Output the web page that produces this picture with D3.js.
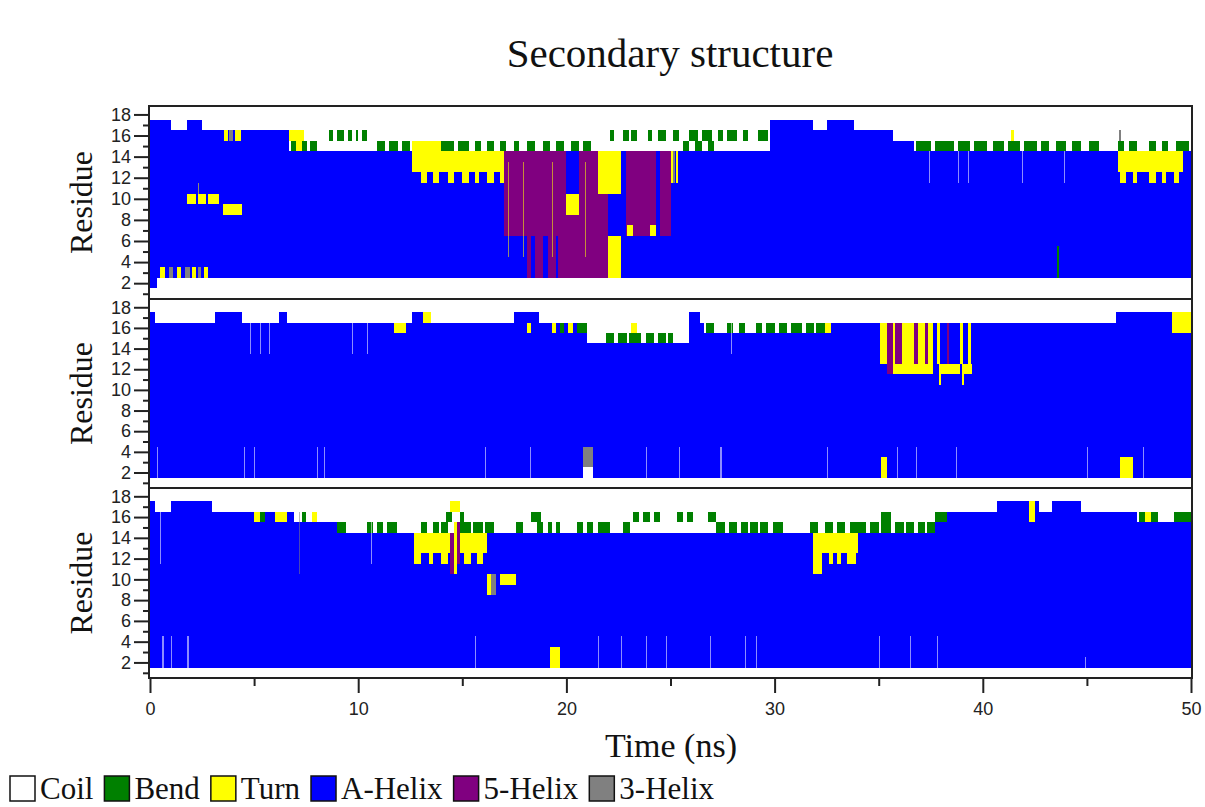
<!DOCTYPE html>
<html>
<head>
<meta charset="utf-8">
<script src="https://cdn.jsdelivr.net/npm/d3@7"></script>
<style>
body { margin: 0; background: #fff; }
svg { display: block; }
</style>
</head>
<body>
<div id="chart"></div>
<script>
// secondary structure states (DSSP codes) and their legend names
var states = ["C", "B", "T", "H", "I", "G"];
var stateNames = ["Coil", "Bend", "Turn", "A-Helix", "5-Helix", "3-Helix"];

var timeTicks = [0, 10, 20, 30, 40, 50];
var timeMinorTicks = [5, 15, 25, 35, 45];
var residueTicks = [2, 4, 6, 8, 10, 12, 14, 16, 18];
var residueMinorTicks = [1, 3, 5, 7, 9, 11, 13, 15, 17];

// each entry: [state, first residue, last residue, [[t0, t1], ...]] in ns
// later entries are painted over earlier ones, anything not covered is coil
var run1 = [
    ["H", 3, 14, [[0, 50]]],
    ["H", 15, 16, [[0, 6.7], [29.8, 35.7]]],
    ["H", 15, 15, [[35.7, 36.7]]],
    ["H", 17, 17, [[0, 1.0], [1.8, 2.5], [29.8, 31.85], [32.5, 33.8]]],
    ["H", 2, 2, [[0, 0.35]]],
    ["T", 3, 3, [[0.5, 0.7], [1.3, 1.5], [2.0, 2.2], [2.6, 2.8]]],
    ["G", 3, 3, [[0.9, 1.1], [1.7, 1.9], [2.3, 2.45]]],
    ["T", 10, 10, [[1.8, 2.2], [2.3, 2.7], [2.8, 3.3]]],
    ["T", 9, 9, [[3.5, 4.4]]],
    ["T", 11, 11, [[2.3, 2.35]]],
    ["T", 16, 16, [[3.55, 3.75], [4.1, 4.35], [6.7, 7.4]]],
    ["G", 16, 16, [[3.8, 4.0]]],
    ["B", 15, 15, [[6.75, 7.0], [7.3, 7.55], [7.7, 8.0]]],
    ["T", 15, 15, [[7.0, 7.3]]],
    ["B", 16, 16, [[8.6, 8.8], [9.0, 9.3], [9.5, 9.7], [9.9, 10.0], [10.2, 10.4]]],
    ["B", 15, 15, [[10.9, 11.3], [11.5, 11.9], [12.1, 12.5]]],
    ["T", 13, 14, [[12.6, 17.0]]],
    ["T", 15, 15, [[12.6, 14.0]]],
    ["T", 12, 12, [[13.0, 13.3], [13.6, 13.9], [14.3, 14.6], [15.0, 15.3], [15.6, 15.8], [16.2, 16.5], [16.8, 17.0]]],
    ["B", 15, 15, [[14.0, 14.6], [14.8, 15.3], [15.6, 15.9], [16.2, 16.5], [16.8, 17.1], [17.5, 17.7], [18.1, 18.5],
                   [18.9, 19.2], [19.5, 19.9], [20.2, 20.6], [20.8, 21.2]]],
    ["I", 7, 14, [[17.0, 18.1]]],
    ["I", 3, 14, [[18.1, 21.5]]],
    ["H", 11, 14, [[20.0, 20.6]]],
    ["T", 9, 10, [[20.0, 20.6]]],
    ["H", 3, 6, [[18.3, 18.5], [18.9, 19.1], [19.5, 19.6]]],
    ["T", 5, 13, [[17.2, 17.25], [17.9, 17.95], [19.3, 19.35], [20.9, 20.95]]],
    ["T", 11, 14, [[21.5, 22.6]]],
    ["I", 3, 10, [[21.5, 22.0]]],
    ["H", 7, 10, [[22.0, 22.6]]],
    ["T", 3, 6, [[22.0, 22.6]]],
    ["I", 7, 14, [[22.6, 25.0]]],
    ["H", 7, 14, [[22.6, 22.85], [24.3, 24.5]]],
    ["T", 7, 7, [[22.9, 23.2], [24.0, 24.3]]],
    ["T", 12, 14, [[25.0, 25.1], [25.25, 25.35]]],
    ["G", 12, 14, [[25.1, 25.2]]],
    ["B", 16, 16, [[22.1, 22.3], [22.7, 23.0], [23.1, 23.4], [23.9, 24.1], [24.4, 24.8], [25.1, 25.4], [25.9, 26.3],
                   [26.5, 27.0], [27.3, 27.5], [27.7, 28.2], [28.5, 28.7], [29.2, 29.7]]],
    ["B", 15, 15, [[25.6, 25.9], [26.2, 26.5], [26.8, 27.1]]],
    ["B", 15, 15, [[36.8, 37.5], [37.7, 38.6], [38.8, 39.4], [39.6, 40.2], [40.5, 41.0], [41.2, 41.8], [42.0, 42.6],
                   [42.8, 43.2], [43.5, 44.0], [44.3, 44.7], [45.1, 45.6], [46.5, 46.8], [47.0, 47.4], [48.0, 48.3],
                   [48.6, 48.9], [49.3, 49.9]]],
    ["T", 16, 16, [[41.35, 41.5]]],
    ["G", 16, 16, [[46.55, 46.65]]],
    ["T", 13, 14, [[46.5, 49.6]]],
    ["T", 12, 12, [[46.6, 46.9], [47.2, 47.4], [48.0, 48.3], [48.6, 48.8], [49.2, 49.4]]],
    ["B", 3, 5, [[43.55, 43.65]]],
    ["C", 12, 14, [[37.4, 37.45], [38.8, 38.85], [39.3, 39.35], [41.9, 41.95], [43.9, 43.95]]]
];

var run2 = [
    ["H", 2, 16, [[0, 50]]],
    ["H", 17, 17, [[0, 0.25], [3.1, 4.4], [6.2, 6.6], [12.6, 13.1], [17.5, 18.7], [25.9, 26.4], [46.4, 49.1]]],
    ["T", 16, 17, [[49.1, 50]]],
    ["T", 16, 16, [[11.7, 12.3]]],
    ["T", 17, 17, [[13.1, 13.5]]],
    ["C", 15, 16, [[21.0, 25.9]]],
    ["B", 15, 15, [[21.9, 22.3], [22.5, 22.9], [23.0, 23.6], [23.8, 24.2], [24.4, 24.8], [24.9, 25.1]]],
    ["T", 16, 16, [[23.1, 23.4]]],
    ["C", 16, 16, [[26.6, 32.7]]],
    ["B", 16, 16, [[26.7, 27.1], [27.7, 28.0], [28.3, 28.6], [29.1, 29.4], [29.6, 30.0], [30.2, 30.6], [30.8, 31.3],
                   [31.5, 31.9], [32.0, 32.4]]],
    ["T", 16, 16, [[32.4, 32.7], [19.3, 19.5], [20.1, 20.3], [18.1, 18.3]]],
    ["B", 16, 16, [[19.7, 19.9], [20.5, 21.0]]],
    ["T", 13, 16, [[35.06, 35.4], [35.7, 35.8], [36.1, 36.7], [36.9, 37.2], [37.35, 37.6], [37.8, 37.95],
                   [38.9, 39.05], [39.3, 39.45]]],
    ["I", 13, 16, [[35.4, 35.7], [35.8, 36.1], [36.7, 36.9], [37.2, 37.35], [38.3, 38.4]]],
    ["I", 12, 12, [[35.4, 35.7]]],
    ["T", 12, 12, [[35.7, 37.6], [37.9, 38.9], [39.0, 39.5]]],
    ["T", 11, 11, [[37.9, 38.0], [39.0, 39.1]]],
    ["T", 2, 3, [[35.1, 35.4], [46.6, 47.2]]],
    ["C", 2, 2, [[20.8, 21.3]]],
    ["G", 3, 4, [[20.8, 21.3]]],
    ["C", 2, 4, [[0.33, 0.38], [4.5, 4.55], [5.0, 5.05], [8.0, 8.05], [8.35, 8.4], [16.1, 16.15], [18.25, 18.3],
                 [23.8, 23.85], [25.4, 25.45], [27.4, 27.45], [32.5, 32.55], [35.9, 35.95], [36.8, 36.85],
                 [38.7, 38.75], [45.0, 45.05], [47.7, 47.75]]],
    ["C", 14, 16, [[4.8, 4.85], [5.3, 5.35], [5.7, 5.75], [9.7, 9.75], [10.4, 10.45], [27.9, 27.95]]]
];

var run3 = [
    ["H", 2, 14, [[0, 50]]],
    ["H", 15, 15, [[0, 9.0], [37.7, 50]]],
    ["H", 16, 16, [[0, 6.9], [38.3, 47.4]]],
    ["H", 17, 17, [[0, 0.25], [1.0, 3.0], [40.7, 42.7], [43.3, 44.7]]],
    ["T", 16, 16, [[5.0, 5.3], [6.0, 6.6], [7.8, 8.0], [47.8, 48.1]]],
    ["B", 16, 16, [[5.3, 5.5], [7.3, 7.5]]],
    ["G", 11, 16, [[7.15, 7.22]]],
    ["B", 15, 15, [[9.0, 9.4], [10.4, 10.7], [10.9, 11.2], [11.4, 11.85]]],
    ["T", 13, 14, [[12.7, 16.2]]],
    ["T", 12, 12, [[12.7, 13.0], [13.4, 13.6], [14.0, 14.3], [15.1, 15.4], [15.7, 16.0]]],
    ["B", 15, 15, [[13.0, 13.3], [13.6, 13.9], [14.0, 14.3], [14.9, 15.4], [15.5, 16.0], [16.1, 16.5], [17.6, 17.9],
                   [18.6, 18.9], [19.1, 19.3], [19.5, 19.7], [20.5, 20.8], [21.0, 21.3], [21.5, 22.1], [22.7, 23.05],
                   [27.2, 27.6], [27.8, 28.2], [28.4, 28.7], [28.8, 29.2], [29.3, 29.7], [29.9, 30.4], [31.7, 32.1],
                   [32.4, 32.8], [33.0, 33.4], [33.6, 34.0], [34.0, 34.4], [34.6, 35.0], [35.1, 35.6], [35.8, 36.2],
                   [36.3, 36.7], [36.9, 37.2], [37.3, 37.7]]],
    ["B", 16, 16, [[14.2, 14.5], [14.9, 15.1], [18.3, 18.8], [23.2, 23.5], [23.7, 24.0], [24.2, 24.5], [25.3, 25.6],
                   [25.8, 26.1], [26.8, 27.2], [35.1, 35.6], [37.7, 38.3], [47.5, 47.8], [48.1, 48.4], [49.2, 50]]],
    ["I", 11, 14, [[14.4, 14.6]]],
    ["T", 11, 15, [[14.6, 14.75]]],
    ["I", 12, 15, [[14.75, 14.9]]],
    ["T", 17, 17, [[14.4, 14.9]]],
    ["T", 9, 10, [[16.2, 16.4]]],
    ["G", 9, 10, [[16.4, 16.6]]],
    ["T", 10, 10, [[16.8, 17.6]]],
    ["T", 11, 14, [[31.85, 32.3]]],
    ["T", 13, 14, [[32.3, 34.0]]],
    ["T", 12, 12, [[32.6, 32.8], [33.0, 33.2], [33.5, 33.9]]],
    ["T", 16, 17, [[42.2, 42.5]]],
    ["T", 2, 3, [[19.2, 19.7]]],
    ["C", 2, 2, [[44.9, 44.97]]],
    ["C", 2, 4, [[0.6, 0.65], [1.0, 1.05], [1.8, 1.85], [15.6, 15.65], [21.5, 21.55], [22.6, 22.65], [23.8, 23.85],
                 [24.8, 24.85], [26.9, 26.95], [28.6, 28.65], [29.1, 29.15], [35.0, 35.05], [36.5, 36.55], [37.8, 37.85]]],
    ["C", 12, 16, [[0.5, 0.55], [10.6, 10.65]]]
];

var runs = [run1, run2, run3];

// colours for each state
var stateColor = { C: "#ffffff", B: "#008000", T: "#ffff00", H: "#0000ff", I: "#800080", G: "#808080" };

var width = 1205,
    height = 807;

var svg = d3.select("#chart")
    .append("svg")
    .attr("width", width)
    .attr("height", height);

var x = d3.scaleLinear()
    .domain([0, 50])
    .range([150, 1191]);

// vertical extent of each panel
var panelBox = [
    { top: 106, bottom: 299 },
    { top: 299, bottom: 488 },
    { top: 488, bottom: 678 }
];

runs.forEach(function(run, i) {
    var box = panelBox[i];
    var y = d3.scaleLinear()
        .domain([0.5, 18.8])
        .range([box.bottom, box.top]);

    var cells = [];
    run.forEach(function(d) {
        d[3].forEach(function(iv) {
            cells.push({ s: d[0], r0: d[1], r1: d[2], t0: iv[0], t1: iv[1] });
        });
    });

    var g = svg.append("g");

    g.selectAll("rect")
        .data(cells)
        .enter()
        .append("rect")
        .attr("x", function(d) { return x(d.t0); })
        .attr("y", function(d) { return y(d.r1 + 0.5); })
        .attr("width", function(d) { return x(d.t1) - x(d.t0); })
        .attr("height", function(d) { return y(d.r0 - 0.5) - y(d.r1 + 0.5); })
        .attr("fill", function(d) { return stateColor[d.s]; })
        // single frames look washed out in the original
        .attr("opacity", function(d) { return (x(d.t1) - x(d.t0)) < 2 ? 0.55 : 1; })
        .attr("shape-rendering", "crispEdges");

    // frame
    g.append("rect")
        .attr("x", 149)
        .attr("y", box.top)
        .attr("width", 1043)
        .attr("height", box.bottom - box.top)
        .attr("fill", "none")
        .attr("stroke", "#222")
        .attr("stroke-width", 2);

    // residue axis, major ticks with labels and minor ticks
    var yAxis = g.append("g")
        .attr("transform", "translate(149,0)")
        .call(d3.axisLeft(y).tickValues(residueTicks).tickSize(15).tickPadding(3));
    var yMinor = g.append("g")
        .attr("transform", "translate(149,0)")
        .call(d3.axisLeft(y).tickValues(residueMinorTicks).tickSize(6).tickFormat(""));
    [yAxis, yMinor].forEach(function(a) {
        a.select(".domain").remove();
        a.selectAll("line").attr("stroke", "#222").attr("stroke-width", 2);
        a.selectAll("text")
            .attr("font-family", "Liberation Sans, Arial, sans-serif")
            .attr("font-size", 18)
            .attr("fill", "#222");
    });

    svg.append("text")
        .attr("transform", "translate(92," + ((box.top + box.bottom) / 2) + ") rotate(-90)")
        .attr("text-anchor", "middle")
        .attr("font-family", "Liberation Serif, Times New Roman, serif")
        .attr("font-size", 32)
        .attr("fill", "#111")
        .text("Residue");
});

// time axis
var xAxis = svg.append("g")
    .attr("transform", "translate(0,678)")
    .call(d3.axisBottom(x).tickValues(timeTicks).tickSize(15).tickPadding(9));
var xMinor = svg.append("g")
    .attr("transform", "translate(0,678)")
    .call(d3.axisBottom(x).tickValues(timeMinorTicks).tickSize(8).tickFormat(""));
[xAxis, xMinor].forEach(function(a) {
    a.select(".domain").remove();
    a.selectAll("line").attr("stroke", "#222").attr("stroke-width", 2);
    a.selectAll("text")
        .attr("font-family", "Liberation Sans, Arial, sans-serif")
        .attr("font-size", 18)
        .attr("fill", "#222");
});

svg.append("text")
    .attr("x", 671)
    .attr("y", 757)
    .attr("text-anchor", "middle")
    .attr("font-family", "Liberation Serif, Times New Roman, serif")
    .attr("font-size", 34)
    .attr("fill", "#111")
    .text("Time (ns)");

svg.append("text")
    .attr("x", 670)
    .attr("y", 67)
    .attr("text-anchor", "middle")
    .attr("font-family", "Liberation Serif, Times New Roman, serif")
    .attr("font-size", 41)
    .attr("fill", "#111")
    .text("Secondary structure");

// legend, laid out left to right
var legend = svg.append("g");
var lx = 10;
states.forEach(function(s, i) {
    legend.append("rect")
        .attr("x", lx)
        .attr("y", 776)
        .attr("width", 25)
        .attr("height", 25)
        .attr("fill", stateColor[s])
        .attr("stroke", "#111")
        .attr("stroke-width", 1.5);
    var t = legend.append("text")
        .attr("x", lx + 30)
        .attr("y", 799)
        .attr("font-family", "Liberation Serif, Times New Roman, serif")
        .attr("font-size", 31)
        .attr("fill", "#111")
        .text(stateNames[i]);
    lx += 30 + t.node().getComputedTextLength() + 11;
});
</script>
</body>
</html>
